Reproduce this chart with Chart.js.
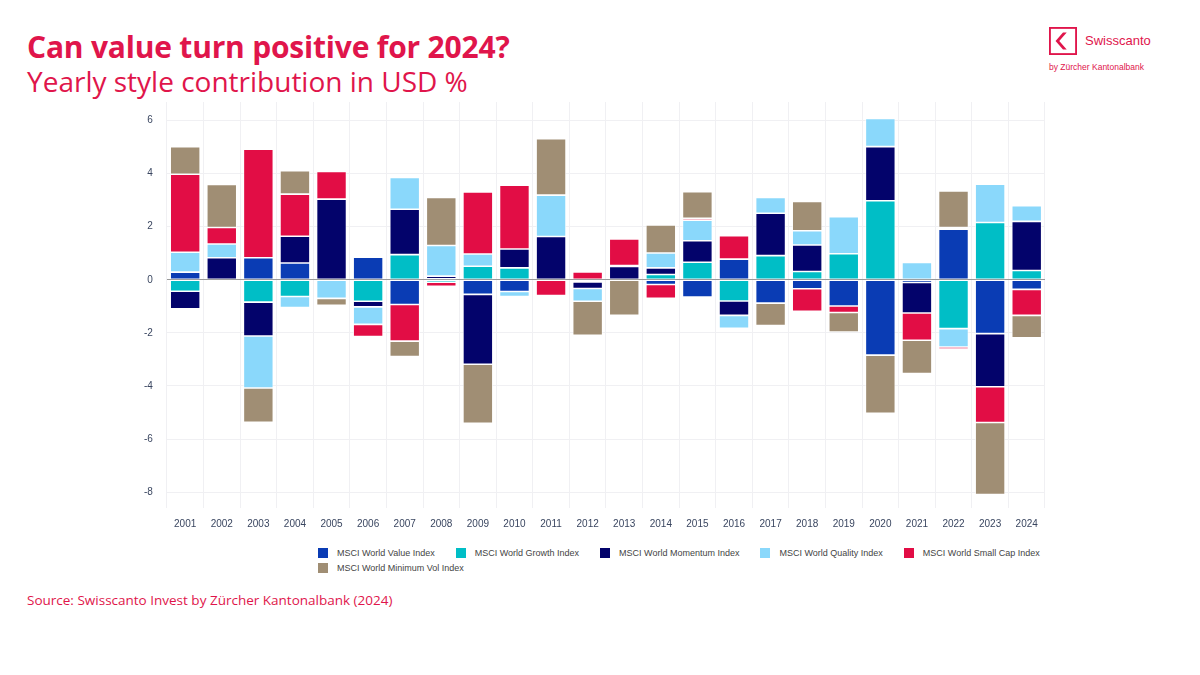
<!DOCTYPE html>
<html><head><meta charset="utf-8">
<script src="https://cdn.jsdelivr.net/npm/chart.js@4"></script>
<style>
body{margin:0;width:1200px;height:675px;background:#fff;font-family:"Open Sans",sans-serif;position:relative;overflow:hidden}
#t1{position:absolute;left:27px;top:26px;color:#e0154b;font-size:30px;font-weight:700;letter-spacing:-0.2px}
#t2{position:absolute;left:27px;top:62px;color:#e0154b;font-size:28px}
#src{position:absolute;left:27px;top:591px;color:#e0154b;font-size:13.5px}
#logo{position:absolute;left:1049px;top:27px}
#box{position:absolute;left:130px;top:82px;width:930px;height:458px}
#leg{position:absolute;left:318px;top:548px;width:820px;font-family:Arial,sans-serif;font-size:9px;color:#444}
.li{display:inline-block;margin-right:21px;margin-bottom:5px}
.sw{display:inline-block;width:10px;height:10px;vertical-align:-2px;margin-right:9px}
</style></head><body>
<div id="t1">Can value turn positive for 2024?</div>
<div id="t2">Yearly style contribution in USD %</div>
<div id="logo">
<svg width="28" height="28" viewBox="0 0 30 30"><rect x="1" y="1" width="28" height="28" fill="#fff" stroke="#e0154b" stroke-width="2"/><path d="M19 6 L11 15 L19 24 L15 24 L7 15 L15 6 Z" fill="#e0154b"/></svg>
<span style="position:absolute;left:36px;top:6px;color:#e0154b;font-size:13px;font-family:Arial,sans-serif">Swisscanto</span>
<div style="position:absolute;left:0;top:35px;white-space:nowrap;color:#e0154b;font-size:8.5px;font-family:Arial,sans-serif">by Zürcher Kantonalbank</div>
</div>
<div id="box"><canvas id="c"></canvas></div>
<div id="leg"></div>
<div id="src">Source: Swisscanto Invest by Zürcher Kantonalbank (2024)</div>
<script>
const years=["2001","2002","2003","2004","2005","2006","2007","2008","2009","2010","2011","2012","2013","2014","2015","2016","2017","2018","2019","2020","2021","2022","2023","2024"];
const valueIdx=[0.29,0,0.83,0.63,0,0.85,-0.93,0.04,-0.55,-0.44,0,-0.08,0,-0.18,-0.65,0.78,-0.88,-0.34,-0.99,-2.84,-0.1,1.91,-2.03,-0.36];
const growthIdx=[-0.43,0,-0.84,-0.63,0,-0.81,0.95,-0.09,0.51,0.45,0,0,0,0.2,0.66,-0.8,0.91,0.31,0.98,2.98,0,-1.84,2.16,0.35];
const momentumIdx=[-0.66,0.83,-1.28,1.01,3.04,-0.21,1.71,0.1,-2.63,0.71,1.63,-0.25,0.5,0.25,0.81,-0.54,1.6,1.0,0,2.04,-1.15,0.06,-2.0,1.85];
const qualityIdx=[0.75,0.52,-1.96,-0.42,-0.7,-0.66,1.2,1.15,0.46,-0.19,1.56,-0.48,0.04,0.56,0.78,-0.49,0.59,0.54,1.4,1.06,0.65,-0.69,1.44,0.59];
const smallCapIdx=[2.94,0.62,4.09,1.59,1.04,-0.46,-1.38,-0.16,2.34,2.4,-0.59,0.3,1.0,-0.52,0.07,0.88,0.06,-0.85,-0.24,0,-1.03,-0.08,-1.35,-0.98];
const minVolIdx=[1.04,1.62,-1.29,0.88,-0.26,0.05,-0.58,1.81,-2.23,0.04,2.13,-1.28,-1.34,1.06,1.0,0,-0.84,1.1,-0.74,-2.19,-1.25,1.38,-2.71,-0.85];
const labels=["MSCI World Value Index","MSCI World Growth Index","MSCI World Momentum Index","MSCI World Quality Index","MSCI World Small Cap Index","MSCI World Minimum Vol Index"];
const series=[valueIdx,growthIdx,momentumIdx,qualityIdx,smallCapIdx,minVolIdx];
const colors=["#0a3cb4","#00bec6","#03036b","#8ad8fb","#e20d45","#a08e74"];
const ds=series.map((d,i)=>({label:labels[i],data:d,backgroundColor:colors[i],borderColor:"#ffffff",borderWidth:0.8,borderSkipped:false,barPercentage:0.82,categoryPercentage:1}));
document.getElementById('leg').innerHTML=labels.map((l,i)=>`<span class="li"><span class="sw" style="background:${colors[i]}"></span>${l}</span>`).join('');
new Chart(document.getElementById('c'),{type:'bar',data:{labels:years,datasets:ds},
options:{responsive:true,maintainAspectRatio:false,animation:false,
layout:{padding:{top:0,bottom:0,right:15}},
plugins:{legend:{display:false},tooltip:{enabled:false}},
scales:{
x:{stacked:true,grid:{color:"#f0f0f3",drawTicks:false},border:{display:false},ticks:{color:"#3a4660",font:{family:"Arial",size:10},padding:10,maxRotation:0}},
y:{stacked:true,min:-8.6,max:6.7,grid:{color:c=>c.tick.value===0?"#999":"#f0f0f3",drawTicks:false},border:{display:false},
ticks:{stepSize:2,color:"#3a4660",font:{family:"Arial",size:10},padding:14},afterBuildTicks:a=>{a.ticks=[-8,-6,-4,-2,0,2,4,6].map(v=>({value:v}));}}
}}});
</script></body></html>
